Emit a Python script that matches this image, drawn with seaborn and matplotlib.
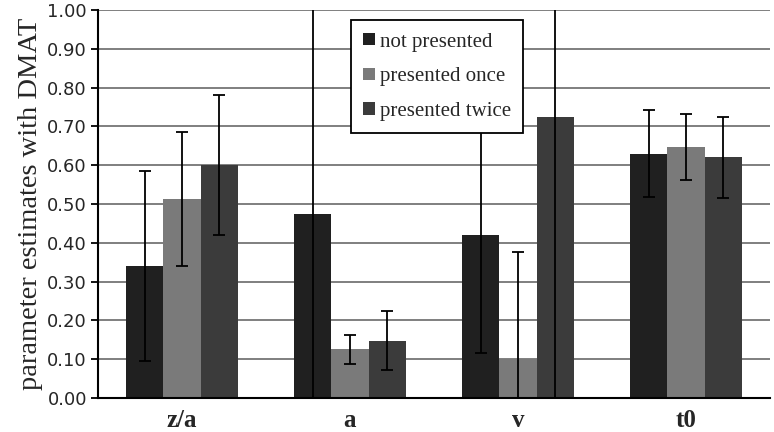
import numpy as np
import pandas as pd
import seaborn as sns
import matplotlib.pyplot as plt
from matplotlib.ticker import FixedLocator, NullFormatter

# data
params = ["z/a", "a", "v", "t0"]
conditions = ["not presented", "presented once", "presented twice"]
not_presented = [0.34, 0.475, 0.42, 0.63]
presented_once = [0.513, 0.125, 0.10, 0.646]
presented_twice = [0.60, 0.148, 0.725, 0.62]
err_not = [0.245, 1.0, 0.305, 0.113]
err_once = [0.172, 0.037, 0.275, 0.085]
err_twice = [0.18, 0.075, 1.0, 0.105]

colors = ["#202020", "#7a7a7a", "#3b3b3b"]

df = pd.DataFrame({
    "param": params * 3,
    "cond": np.repeat(conditions, 4),
    "value": not_presented + presented_once + presented_twice,
})
errs = [err_not, err_once, err_twice]
vals = [not_presented, presented_once, presented_twice]

sns.set_style("white")
fig = plt.figure(figsize=(7.74, 4.32), dpi=100)
ax = fig.add_axes([0.1266, 0.0787, 0.8682, 0.8983])

sns.barplot(data=df, x="param", y="value", hue="cond", order=params,
            hue_order=conditions, palette=colors, width=0.667,
            saturation=1, errorbar=None, linewidth=0, ax=ax, zorder=2)

# error bars on top of each bar
for cont, v, e in zip(ax.containers, vals, errs):
    xs = [p.get_x() + p.get_width() / 2 for p in cont.patches]
    ax.errorbar(xs, v, yerr=e, fmt="none", ecolor="black", elinewidth=1.3,
                capsize=4, capthick=1.3, zorder=3)

ax.set_ylim(0, 1.0)
ax.set_xlim(-0.5, 3.5)
ax.set_yticks(np.arange(0, 1.01, 0.1))
ax.set_yticklabels([f"{t:.2f}" for t in np.arange(0, 1.01, 0.1)],
                   fontsize=13, family="DejaVu Sans")
ax.yaxis.grid(True, color="#7f7f7f", linewidth=1.4, zorder=0)
ax.set_axisbelow(True)

# x ticks between groups, labels centred on groups
ax.xaxis.set_major_locator(FixedLocator([-0.5, 0.5, 1.5, 2.5, 3.5]))
ax.xaxis.set_major_formatter(NullFormatter())
ax.xaxis.set_minor_locator(FixedLocator([0, 1, 2, 3]))
ax.set_xticklabels(params, minor=True, fontsize=18, family="Liberation Serif",
                   fontweight="bold")
ax.tick_params(axis="x", which="minor", length=0, pad=8)
ax.tick_params(axis="x", which="major", direction="out", length=5, width=1.5,
               color="black")
ax.tick_params(axis="y", direction="out", length=5, width=1.3, color="black",
               left=True, pad=3)

for s in ["top", "right"]:
    ax.spines[s].set_visible(False)
for s in ["left", "bottom"]:
    ax.spines[s].set_color("black")
    ax.spines[s].set_linewidth(1.5)

ax.set_xlabel("")
ax.set_ylabel("parameter estimates with DMAT", fontsize=20.5,
              family="Liberation Serif", labelpad=3)

leg = ax.legend(loc="upper left", bbox_to_anchor=(0.376, 0.974),
                prop={"family": "Liberation Serif", "size": 15},
                frameon=True, fancybox=False, framealpha=1, edgecolor="black",
                handlelength=0.55, handleheight=0.55, handletextpad=0.25,
                labelspacing=0.75, borderpad=0.6, borderaxespad=0)
leg.get_frame().set_linewidth(1.3)
leg.set_zorder(5)

fig.savefig("out.png", dpi=100)
